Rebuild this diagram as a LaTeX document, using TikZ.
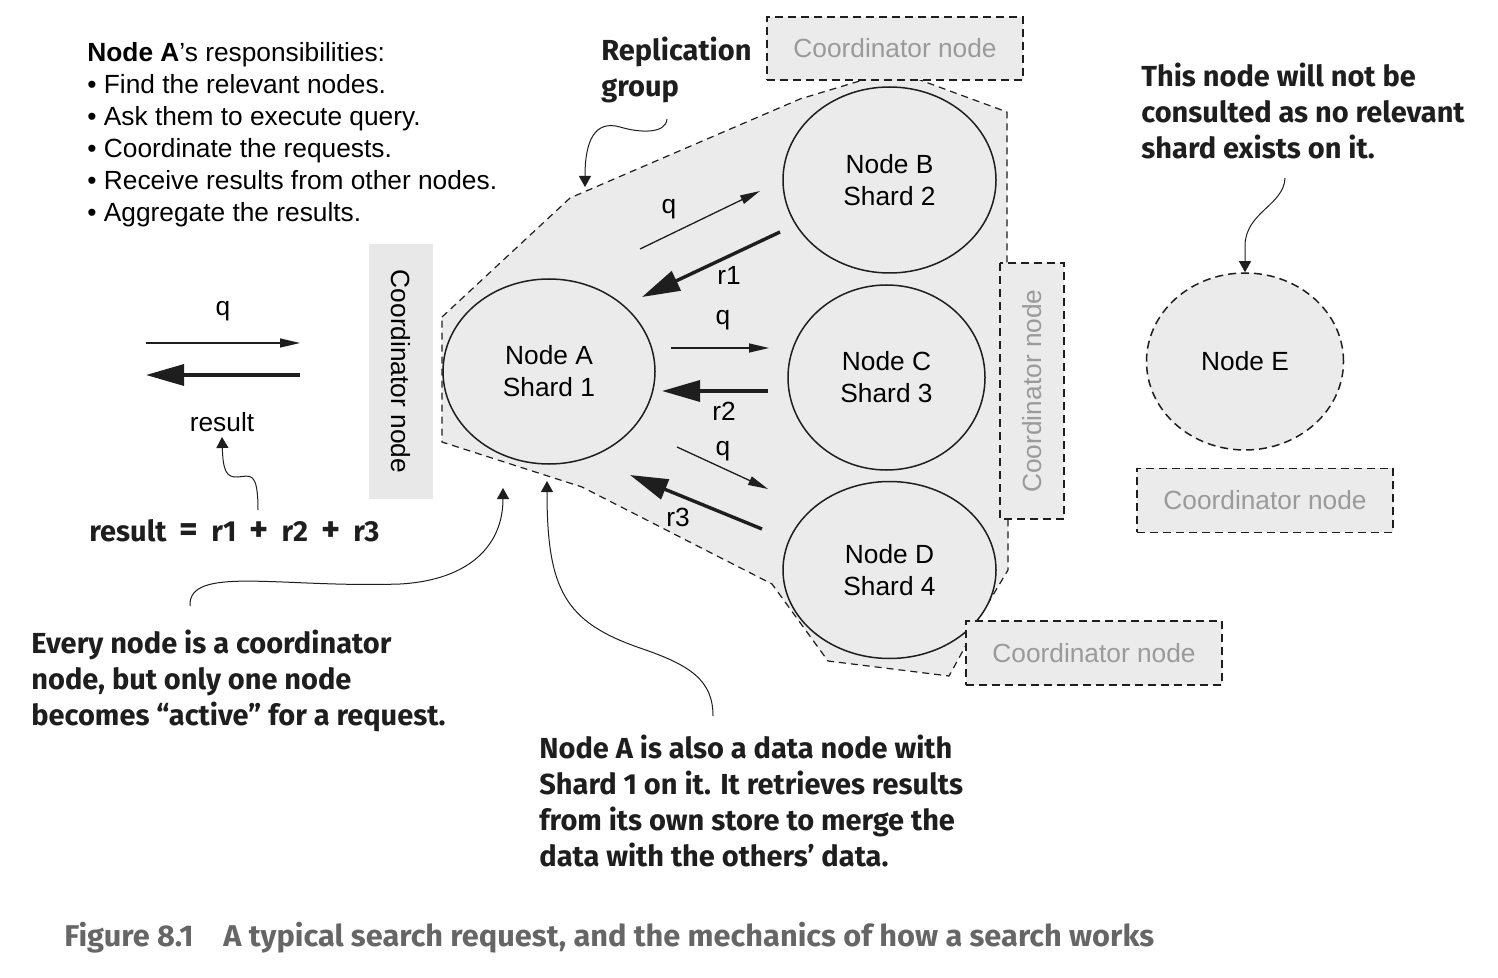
\documentclass[tikz,border=0pt]{standalone}
\usepackage{fontspec}
\setmainfont{Liberation Sans}
\newfontfamily\annotfont{Fira Sans}
\newfontfamily\capfont[FakeStretch=1.025]{Fira Sans}
\usetikzlibrary{shapes.geometric,arrows.meta}
\definecolor{fillgray}{HTML}{EBEBEB}
\definecolor{boxgray}{HTML}{E8E8E8}
\definecolor{txtgray}{HTML}{9A9A9A}
\definecolor{capgray}{HTML}{666666}
\definecolor{ink}{HTML}{1E1E1E}
\newcommand\bodysize{\fontsize{13.15pt}{16pt}\selectfont}
\newcommand\annotsize{\fontsize{14.5pt}{18pt}\selectfont}
\newcommand\opgap{\hspace{6.5pt}}
\newcommand\bigop[1]{{\fontsize{18pt}{18pt}\selectfont #1}}
\tikzset{
  body/.style={font=\bodysize, inner sep=0pt, text=black},
  annot/.style={font=\annotfont\bfseries\annotsize, inner sep=0pt, text=ink, anchor=base west},
  captext/.style={font=\capfont\bfseries\fontsize{15pt}{18pt}\selectfont, inner sep=0pt, text=capgray, anchor=base west},
  dnode/.style={ellipse, draw=ink, line width=0.75pt, fill=fillgray, align=center, font=\bodysize, inner sep=0pt},
  dashnode/.style={dash pattern=on 4pt off 2.5pt},
  cbox/.style={rectangle, draw=ink, line width=0.8pt, dash pattern=on 4pt off 2.5pt, fill=fillgray, text=txtgray, font=\bodysize, inner sep=0pt},
  lbox/.style={rectangle, fill=boxgray, text=black, font=\bodysize, inner sep=0pt},
  group/.style={draw=ink, fill=fillgray, line width=0.6pt, dash pattern=on 3.5pt off 2.5pt},
  thinarr/.style={draw=ink, line width=0.65pt, -{Triangle[length=10pt,width=4.5pt]}},
  thickarr/.style={draw=ink, line width=1.7pt, -{Triangle[length=19pt,width=10.5pt]}},
  callout/.style={draw=ink, line width=0.5pt, -{Triangle[length=5.5pt,width=6pt]}},
}
\begin{document}
\begin{tikzpicture}[x=0.5pt,y=-0.5pt]
\useasboundingbox[fill=white] (0,0) rectangle (1498,978);

% replication group
\draw[group] (442,317) -- (570,198) -- (800,99) -- (863,80) -- (863,70) -- (920,70) -- (920,80)
  -- (1007,112) -- (1007,262) -- (1008,519) -- (1008,570) -- (978,620) -- (965,647)
  -- (949,676) -- (828,661) -- (772,584) -- (582,487) -- (442,442) -- cycle;

% data nodes
\node[dnode, minimum width=106pt, minimum height=92.5pt] (A) at (549,371.5) {Node A\\Shard 1};
\node[dnode, minimum width=106.5pt, minimum height=93pt] (B) at (889.5,180) {Node B\\Shard 2};
\node[dnode, minimum width=98.5pt, minimum height=92.5pt] (C) at (886.5,377.5) {Node C\\Shard 3};
\node[dnode, minimum width=106.5pt, minimum height=88.5pt] (D) at (889.5,570) {Node D\\Shard 4};
\node[dnode, dashnode, minimum width=98.5pt, minimum height=88.5pt] (E) at (1245,361.5) {Node E};

% coordinator boxes
\node[lbox, rotate=-90, minimum width=127.5pt, minimum height=32pt] (cb0) at (401,371.5) {Coordinator node};
\node[cbox, minimum width=128pt, minimum height=31.5pt] (cb1) at (895,48.5) {Coordinator node};
\node[cbox, rotate=90, minimum width=128pt, minimum height=32pt] (cb2) at (1032,391) {Coordinator node};
\node[cbox, minimum width=128pt, minimum height=32pt] (cb3) at (1094,653) {Coordinator node};
\node[cbox, minimum width=128pt, minimum height=32pt] (cb4) at (1265,500.3) {Coordinator node};

% left request/result arrows
\coordinate (lq1) at (146,343); \coordinate (lq2) at (300,343);
\coordinate (lr1) at (300,375); \coordinate (lr2) at (146,375);
\draw[thinarr] (lq1) -- (lq2);
\draw[thickarr] (lr1) -- (lr2);
\node[body] (lqlab) at (223,311) {q};
\node[body] (lrlab) at (222,422) {result};

% arrows between nodes
\coordinate (qb1) at (640,249); \coordinate (qb2) at (760,191);
\coordinate (rb1) at (780,232); \coordinate (rb2) at (642,297);
\coordinate (qc1) at (671,348); \coordinate (qc2) at (769,348);
\coordinate (rc1) at (768,391); \coordinate (rc2) at (662,391);
\coordinate (qd1) at (677,447); \coordinate (qd2) at (768,489);
\coordinate (rd1) at (762,529); \coordinate (rd2) at (630,475);
\draw[thinarr] (qb1) -- (qb2);
\draw[thickarr] (rb1) -- (rb2);
\draw[thinarr] (qc1) -- (qc2);
\draw[thickarr] (rc1) -- (rc2);
\draw[thinarr] (qd1) -- (qd2);
\draw[thickarr] (rd1) -- (rd2);
\node[body] (qblab) at (669,209) {q};
\node[body] (rblab) at (729,275) {r1};
\node[body] (qclab) at (723,320) {q};
\node[body] (rclab) at (724,411.5) {r2};
\node[body] (qdlab) at (723,451.5) {q};
\node[body] (rdlab) at (678,517.5) {r3};

% responsibilities text
\node[body, anchor=base west] (t0) at (87,61.7) {\textbf{Node A}’s responsibilities:};
\node[body, anchor=base west] (t1) at (87,93.7) {• Find the relevant nodes.};
\node[body, anchor=base west] (t2) at (87,125.7) {• Ask them to execute query.};
\node[body, anchor=base west] (t3) at (87,157.7) {• Coordinate the requests.};
\node[body, anchor=base west] (t4) at (87,189.7) {• Receive results from other nodes.};
\node[body, anchor=base west] (t5) at (87,221.7) {• Aggregate the results.};

% annotations
\node[annot] (rg1) at (601,60.7) {Replication};
\node[annot] (rg2) at (601,96.7) {group};
\node[annot] (ne1) at (1141,87) {This node will not be};
\node[annot] (ne2) at (1141,123) {consulted as no relevant};
\node[annot] (ne3) at (1141,159) {shard exists on it.};
\node[annot] (res) at (89,541) {result\opgap\bigop{=}\opgap r1\opgap\bigop{+}\opgap r2\opgap\bigop{+}\opgap r3};
\node[annot] (ev1) at (31,653) {Every node is a coordinator};
\node[annot] (ev2) at (31,689) {node, but only one node};
\node[annot] (ev3) at (31,725) {becomes “active” for a request.};
\node[annot] (na1) at (539,758) {Node A is also a data node with};
\node[annot] (na2) at (539,794) {Shard 1 on it. It retrieves results};
\node[annot] (na3) at (539,830) {from its own store to merge the};
\node[annot] (na4) at (539,866) {data with the others’ data.};

% callout arrows
\coordinate (c1a) at (667,119); \coordinate (c1b) at (585,187);
\draw[callout] (c1a) .. controls (666,134) and (640,133) .. (620,127) .. controls (595,120) and (585,140) .. (c1b);
\coordinate (c2a) at (1285,178);
\draw[callout] (c2a) .. controls (1284,205) and (1246,212) .. (1245,245) -- (E.north);
\coordinate (c3a) at (258,510); \coordinate (c3b) at (222,437);
\draw[callout] (c3a) .. controls (258,470) and (250,476) .. (238,477) .. controls (226,478) and (223,470) .. (c3b);
\coordinate (c4a) at (190,606); \coordinate (c4b) at (503,488);
\draw[callout] (c4a) .. controls (188,565) and (280,588) .. (400,584) .. controls (470,580) and (503,545) .. (c4b);
\coordinate (c5a) at (713,716); \coordinate (c5b) at (547,481);
\draw[callout] (c5a) .. controls (713,680) and (690,665) .. (640,648) .. controls (565,622) and (547,590) .. (c5b);

% caption
\node[captext] (cap) at (64,946) {Figure 8.1\hspace{15pt}A typical search request, and the mechanics of how a search works};
\end{tikzpicture}
\end{document}
